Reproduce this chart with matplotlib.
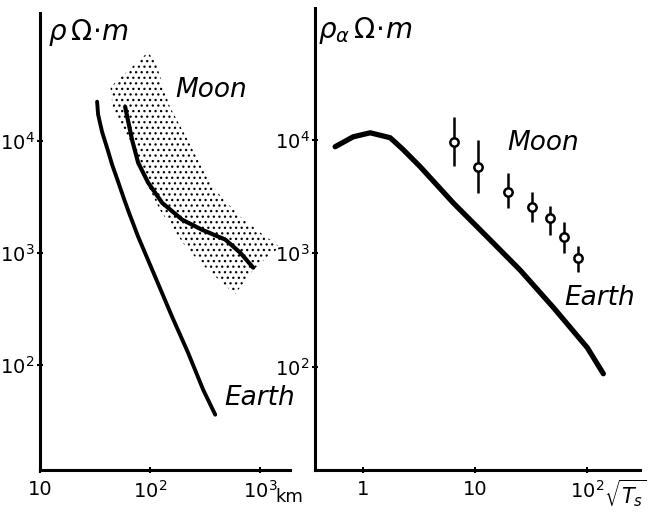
import matplotlib
matplotlib.use("Agg")
import matplotlib.pyplot as plt
import numpy as np

# ---- data ----
# Left panel: rho vs distance (km)
earth_L_x = [33.0, 33.7, 36.6, 40.6, 45.2, 51.2, 57.4, 63.8, 77.8, 111, 158, 221, 303, 390]
earth_L_y = [22300, 17100, 12000, 8660, 6100, 4300, 3100, 2320, 1390, 611, 269, 128, 59.8, 35.8]
moon_L_x = [59.3, 68.5, 77.8, 95.9, 128.5, 195.4, 297, 481, 658, 863]
moon_L_y = [20100, 10200, 6370, 4220, 2790, 1970, 1600, 1310, 1000, 735]
band_logx = [1.98, 1.64, 1.66, 1.75, 1.84, 1.91, 2.00, 2.09, 2.21, 2.34, 2.52, 2.77,
             2.94, 3.06, 3.18, 3.00, 2.82, 2.61, 2.48, 2.34, 2.18, 2.12, 2.05]
band_logy = [4.79, 4.48, 4.30, 4.10, 3.92, 3.74, 3.56, 3.38, 3.21, 3.03, 2.85, 2.63,
             2.85, 2.96, 3.05, 3.18, 3.32, 3.54, 3.74, 4.01, 4.30, 4.48, 4.70]

# Right panel: rho_a vs sqrt(T)
earth_R_x = [0.562, 0.815, 1.155, 1.742, 2.275, 3.23, 6.37, 12.8, 25.2, 49.7, 100, 139]
earth_R_y = [8670, 10600, 11500, 10400, 8170, 5770, 2770, 1390, 708, 333, 147, 86.7]
moon_R_x = [6.5, 10.6, 19.6, 32, 46, 62, 83]
moon_R_y = [9600, 5800, 3470, 2570, 2040, 1380, 910]
moon_R_hi = [15900, 10000, 5130, 3470, 2630, 1870, 1150]
moon_R_lo = [5890, 3390, 2510, 1870, 1450, 1000, 676]

xt_L = [10, 100, 1000]
xtl_L = ["10", r"$10^2$", r"$10^3$"]
xt_R = [1, 10, 100]
xtl_R = ["1", "10", r"$10^2$"]
yt = [100, 1000, 10000]
ytl = [r"$10^2$", r"$10^3$", r"$10^4$"]

W, H = 651, 513
fig = plt.figure(figsize=(W / 100, H / 100), dpi=100)
plt.rcParams['hatch.linewidth'] = 0.9


def px(x0, y0, x1, y1):
    return [x0 / W, 1 - y1 / H, (x1 - x0) / W, (y1 - y0) / H]


axL = fig.add_axes(px(40, 13, 290, 470))
axR = fig.add_axes(px(315, 8, 640, 470))

for ax in (axL, axR):
    ax.set_xscale("log")
    ax.set_yscale("log")
    for s in ("top", "right"):
        ax.spines[s].set_visible(False)
    for s in ("left", "bottom"):
        ax.spines[s].set_linewidth(2.2)
    ax.minorticks_off()
    ax.tick_params(direction="inout", length=4, width=1.5, labelsize=14, pad=2)
    ax.set_yticks(yt)
    ax.set_yticklabels(ytl)

axL.set_xlim(10, 10 ** 3.27)
axL.set_ylim(10 ** 1.06, 10 ** 5.14)
axR.set_xlim(10 ** -0.43, 10 ** 2.47)
axR.set_ylim(10 ** 1.09, 10 ** 5.16)

axL.set_xticks(xt_L)
axL.set_xticklabels(xtl_L)
axR.set_xticks(xt_R)
axR.set_xticklabels(xtl_R)
axL.tick_params(axis="x", pad=5)
axR.tick_params(axis="x", pad=5)

# left panel
axL.fill(10 ** np.array(band_logx), 10 ** np.array(band_logy), facecolor="none",
         edgecolor="black", linewidth=0, hatch="...")
axL.plot(earth_L_x, earth_L_y, color="black", lw=2.8, solid_capstyle="round",
         solid_joinstyle="round")
axL.plot(moon_L_x, moon_L_y, color="black", lw=3.0, solid_capstyle="round",
         solid_joinstyle="round")

# right panel
axR.plot(earth_R_x, earth_R_y, color="black", lw=3.8, solid_capstyle="round",
         solid_joinstyle="round")
my = np.array(moon_R_y)
yerr = [my - np.array(moon_R_lo), np.array(moon_R_hi) - my]
axR.errorbar(moon_R_x, moon_R_y, yerr=yerr, fmt="o", ms=6, mfc="white", mec="black",
             mew=1.8, ecolor="black", elinewidth=1.8, capsize=0)

# text
def ft(x, y, s, **kw):
    fig.text(x / W, 1 - y / H, s, **kw)

ft(48, 33, r"$\rho\,\Omega\!\cdot\! m$", fontsize=20, va="center", ha="left")
ft(318, 30, r"$\rho_{\alpha}\,\Omega\!\cdot\! m$", fontsize=20, va="center", ha="left")
ft(211, 90, "Moon", fontsize=19, style="italic", ha="center", va="center")
ft(260, 398, "Earth", fontsize=19, style="italic", ha="center", va="center")
ft(543, 143, "Moon", fontsize=19, style="italic", ha="center", va="center")
ft(600, 298, "Earth", fontsize=19, style="italic", ha="center", va="center")
ft(275, 497, "km", fontsize=13, ha="left", va="center")
ft(604, 493, r"$\sqrt{T_s}$", fontsize=15, ha="left", va="center")

fig.savefig("out.png", dpi=100)
